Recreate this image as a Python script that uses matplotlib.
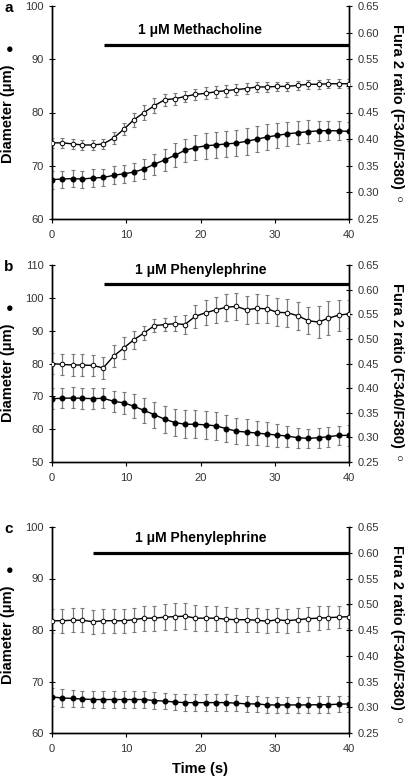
import numpy as np
import matplotlib
matplotlib.use('Agg')
import matplotlib.pyplot as plt

plt.rcParams['font.family'] = ['Liberation Sans', 'DejaVu Sans']

# sampling times (s)
time_s = [0, 1.4, 2.8, 4.1, 5.5, 6.9, 8.3, 9.7, 11.0, 12.4, 13.8, 15.2, 16.6, 17.9, 19.3,
          20.7, 22.1, 23.4, 24.8, 26.2, 27.6, 29.0, 30.3, 31.7, 33.1, 34.5, 35.9, 37.2, 38.6, 40.0]

# panel a - methacholine
diam_a = [67.4, 67.5, 67.6, 67.5, 67.7, 67.8, 68.2, 68.5, 68.8, 69.4, 70.3, 71.1, 72.0, 72.9, 73.4,
          73.75, 73.9, 74.1, 74.25, 74.6, 75.0, 75.4, 75.7, 76.0, 76.2, 76.4, 76.55, 76.6, 76.55, 76.45]
diam_a_err = [1.7, 1.6, 1.6, 1.6, 1.6, 1.6, 1.7, 1.7, 1.75, 1.9, 2.0, 2.0, 2.2, 2.2, 2.3,
              2.4, 2.4, 2.4, 2.4, 2.5, 2.5, 2.5, 2.4, 2.3, 2.2, 2.1, 1.9, 1.8, 1.8, 1.8]
fura_a = [0.393, 0.393, 0.391, 0.389, 0.389, 0.391, 0.402, 0.419, 0.436, 0.450, 0.463, 0.474, 0.476, 0.480, 0.484,
          0.486, 0.489, 0.491, 0.493, 0.495, 0.498, 0.498, 0.499, 0.499, 0.501, 0.503, 0.503, 0.504, 0.504, 0.504]
fura_a_err = [0.009, 0.009, 0.009, 0.009, 0.009, 0.009, 0.011, 0.012, 0.014, 0.014, 0.014, 0.011, 0.011, 0.011, 0.011,
              0.011, 0.011, 0.011, 0.010, 0.010, 0.010, 0.009, 0.009, 0.009, 0.009, 0.008, 0.008, 0.008, 0.008, 0.008]

# panel b - phenylephrine
diam_b = [69.3, 69.4, 69.5, 69.4, 69.3, 69.4, 68.5, 68.0, 67.0, 65.7, 64.4, 63.0, 62.0, 61.5, 61.5,
          61.3, 61.0, 60.2, 59.4, 59.1, 58.8, 58.5, 58.2, 57.9, 57.4, 57.2, 57.4, 57.7, 58.1, 58.1]
diam_b_err = [3.1, 3.1, 3.2, 3.2, 3.1, 3.1, 3.2, 3.4, 3.7, 3.9, 4.0, 4.2, 4.2, 4.2, 4.2,
              4.2, 4.2, 4.0, 4.0, 3.9, 3.7, 3.7, 3.5, 3.2, 3.1, 3.0, 3.0, 3.0, 3.0, 3.1]
fura_b = [0.450, 0.448, 0.447, 0.447, 0.446, 0.441, 0.465, 0.482, 0.498, 0.512, 0.527, 0.529, 0.531, 0.529, 0.546,
          0.553, 0.559, 0.564, 0.566, 0.559, 0.562, 0.561, 0.554, 0.553, 0.547, 0.537, 0.534, 0.542, 0.548, 0.551]
fura_b_err = [0.022, 0.022, 0.022, 0.022, 0.022, 0.022, 0.023, 0.022, 0.019, 0.015, 0.014, 0.014, 0.015, 0.019, 0.023,
              0.025, 0.026, 0.027, 0.028, 0.028, 0.029, 0.028, 0.028, 0.028, 0.028, 0.028, 0.032, 0.034, 0.031, 0.028]

# panel c - phenylephrine
diam_c = [67.0, 66.8, 66.7, 66.6, 66.5, 66.5, 66.5, 66.5, 66.5, 66.5, 66.3, 66.2, 66.0, 65.9, 65.9,
          65.9, 65.9, 65.9, 65.8, 65.65, 65.65, 65.45, 65.45, 65.45, 65.45, 65.45, 65.5, 65.5, 65.6, 65.65]
diam_c_err = [1.8, 1.7, 1.6, 1.6, 1.6, 1.6, 1.6, 1.6, 1.6, 1.6, 1.6, 1.6, 1.6, 1.6, 1.6,
              1.6, 1.6, 1.6, 1.6, 1.6, 1.6, 1.6, 1.6, 1.6, 1.6, 1.6, 1.6, 1.6, 1.6, 1.6]
fura_c = [0.468, 0.468, 0.469, 0.469, 0.466, 0.468, 0.468, 0.468, 0.470, 0.473, 0.473, 0.475, 0.476, 0.477, 0.473,
          0.473, 0.473, 0.471, 0.470, 0.470, 0.469, 0.467, 0.470, 0.468, 0.470, 0.472, 0.473, 0.474, 0.475, 0.476]
fura_c_err = [0.023, 0.023, 0.023, 0.023, 0.023, 0.023, 0.023, 0.023, 0.023, 0.024, 0.024, 0.025, 0.026, 0.026, 0.025,
              0.024, 0.024, 0.024, 0.023, 0.023, 0.023, 0.023, 0.023, 0.023, 0.023, 0.023, 0.023, 0.022, 0.022, 0.022]

letters = ['a', 'b', 'c']
drugs = ['1 μM Methacholine', '1 μM Phenylephrine', '1 μM Phenylephrine']
bar_start = [7.0, 7.0, 5.5]
bar_level = [92.7, 104.2, 95.0]
text_level = [95.5, 108.5, 97.9]
diam_lims = [(60, 100), (50, 110), (60, 100)]

W, H = 407, 777
fig = plt.figure(figsize=(W / 100, H / 100), dpi=100)

# pixel boxes (top, bottom) of each panel
boxes = [(6, 219), (265, 462), (527, 733)]

diams = [(diam_a, diam_a_err), (diam_b, diam_b_err), (diam_c, diam_c_err)]
furas = [(fura_a, fura_a_err), (fura_b, fura_b_err), (fura_c, fura_c_err)]

tick_kw = dict(direction='inout', length=5, width=0.8, labelsize=8, labelcolor='#333333')

for i in range(3):
    top, bot = boxes[i]
    ax = fig.add_axes([52 / W, 1 - bot / H, (349 - 52) / W, (bot - top) / H])
    ax2 = ax.twinx()

    d, de = diams[i]
    f, fe = furas[i]
    ax.errorbar(time_s, d, yerr=de, fmt='none', ecolor='#7a7a7a', elinewidth=0.9, capsize=1.6, capthick=0.8)
    ax.plot(time_s, d, '-o', color='black', lw=1.0, ms=3.3, mfc='black', mec='black', zorder=3)
    ax2.errorbar(time_s, f, yerr=fe, fmt='none', ecolor='#7a7a7a', elinewidth=0.9, capsize=1.6, capthick=0.8)
    ax2.plot(time_s, f, '-o', color='black', lw=1.0, ms=3.3, mfc='white', mec='black', mew=0.7, zorder=3)

    ax.plot([bar_start[i], 40], [bar_level[i], bar_level[i]], color='black', lw=2.3, clip_on=False,
            solid_capstyle='butt')
    ax.text(20, text_level[i], drugs[i], ha='center', va='center', fontsize=10, fontweight='bold')

    lo, hi = diam_lims[i]
    ax.set_xlim(0, 40)
    ax.set_ylim(lo, hi)
    ax.set_yticks(np.arange(lo, hi + 1, 10))
    ax.set_xticks([0, 10, 20, 30, 40])
    ax2.set_ylim(0.25, 0.65)
    ax2.set_yticks(np.arange(0.25, 0.651, 0.05))
    ax2.set_yticklabels(['%.2f' % v for v in np.arange(0.25, 0.651, 0.05)])

    for a in (ax, ax2):
        a.spines['top'].set_visible(False)
        for s in a.spines.values():
            s.set_linewidth(1.0)
        a.tick_params(**tick_kw)
    ax.tick_params(axis='x', direction='out', length=3, pad=5)

    # labels
    fig.text(9 / W, 1 - (top + 2) / H, letters[i], fontsize=11, fontweight='bold', ha='center', va='center')
    fig.text(8 / W, 1 - (top + 108) / H, 'Diameter (μm)', rotation=90, fontsize=10.5, fontweight='bold',
             ha='center', va='center')
    fig.text(10 / W, 1 - (top + 44) / H, '●', fontsize=9, ha='center', va='center')
    fig.text(397 / W, 1 - (top + 100) / H, 'Fura 2 ratio (F340/F380)', rotation=270, fontsize=10.5,
             fontweight='bold', ha='center', va='center')
    fig.text(399 / W, 1 - (top + 194) / H, '○', fontsize=8, ha='center', va='center')

    if i == 2:
        ax.set_xlabel('Time (s)', fontsize=10.5, fontweight='bold', labelpad=6)

fig.savefig('out.png', dpi=100)
